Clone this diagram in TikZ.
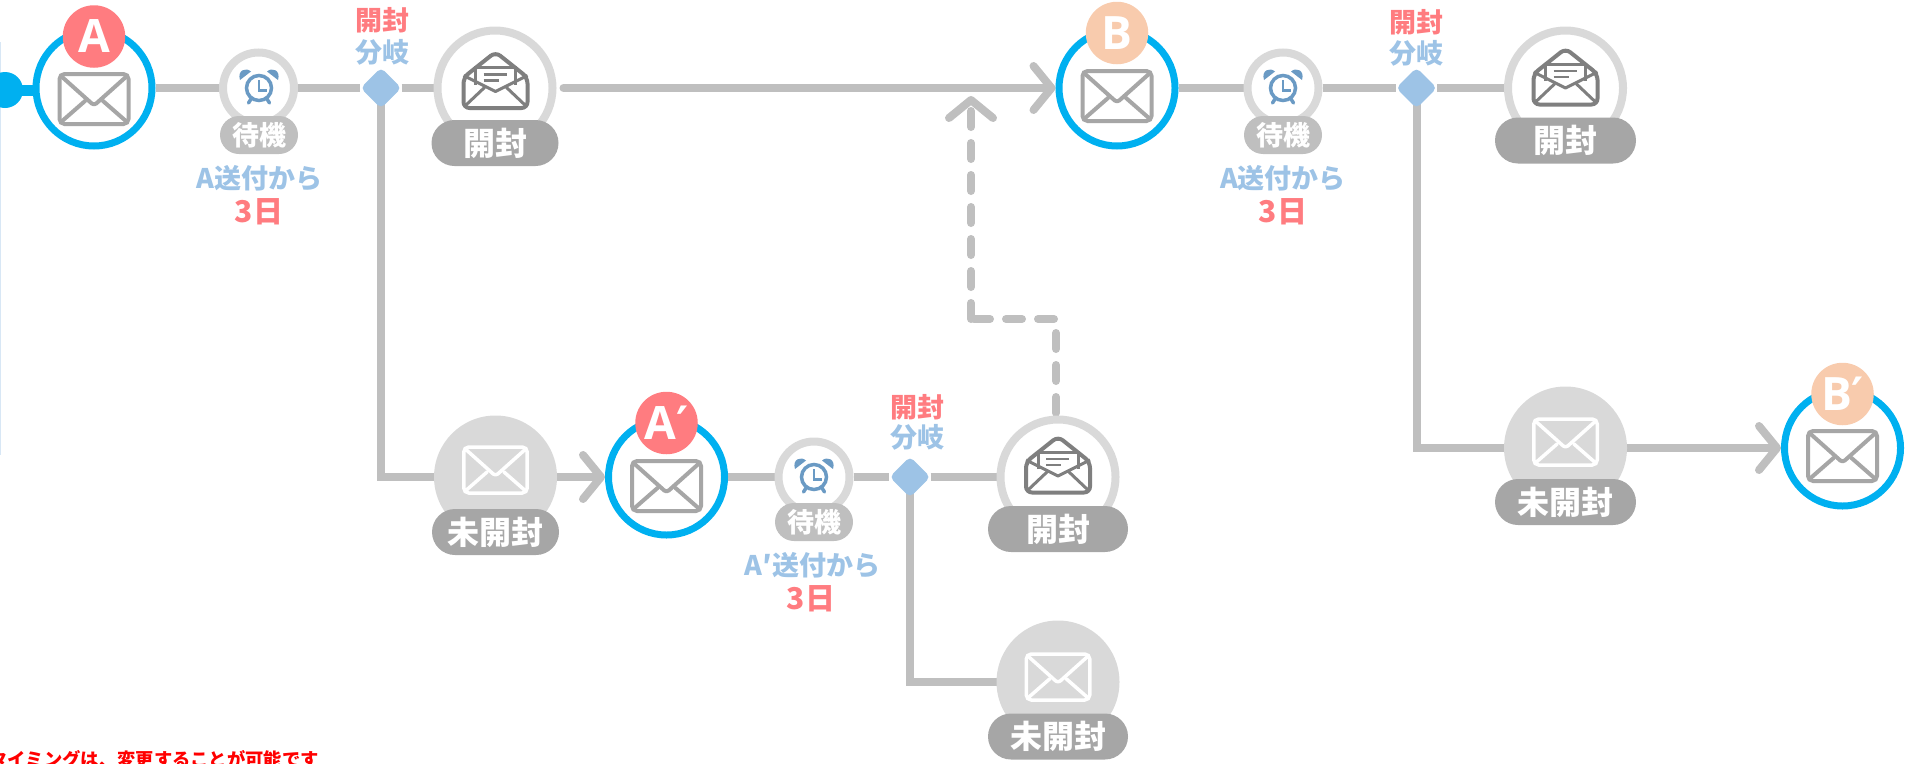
\documentclass[tikz,border=0pt]{standalone}
\usepackage{fontspec}
\setmainfont{Noto Sans CJK JP}
\newfontfamily\latinb{Open Sans}
\newfontfamily\primef{DejaVu Sans}
\usetikzlibrary{arrows.meta,shapes.geometric,shapes.misc,calc}
\pgfdeclarelayer{behind}
\pgfsetlayers{behind,main}
\definecolor{linegray}{HTML}{BFBFBF}
\definecolor{ringgray}{HTML}{D9D9D9}
\definecolor{pillgray}{HTML}{A6A6A6}
\definecolor{openicon}{HTML}{7F7F7F}
\definecolor{mailblue}{HTML}{00B0F0}
\definecolor{pinkc}{HTML}{FF7C80}
\definecolor{bluec}{HTML}{9DC3E6}
\definecolor{peachc}{HTML}{F8CBAD}
\definecolor{clockc}{HTML}{6A9AC4}
\tikzset{
  sendring/.style={circle,draw=mailblue,line width=7pt,fill=white,minimum size=116pt,inner sep=0pt},
  openring/.style={circle,draw=ringgray,line width=8pt,fill=white,minimum size=115pt,inner sep=0pt},
  shutdisk/.style={circle,fill=ringgray,minimum size=123pt,inner sep=0pt},
  clockring/.style={circle,draw=ringgray,line width=8pt,fill=white,minimum size=71pt,inner sep=0pt},
  badge/.style={circle,minimum size=62.5pt,inner sep=0pt,text=white,font=\latinb\bfseries\fontsize{46}{46}\selectfont},
  bigpill/.style={rounded rectangle,fill=pillgray,text=white,minimum height=46pt,inner sep=0pt,font=\bfseries\fontsize{32}{32}\selectfont},
  waitpill/.style={rounded rectangle,fill=linegray,text=white,minimum width=78pt,minimum height=38pt,inner sep=0pt,font=\bfseries\fontsize{27}{27}\selectfont},
  branchdot/.style={diamond,fill=bluec,minimum size=41pt,inner sep=0pt,rounded corners=5pt},
  pinklabel/.style={text=pinkc,inner sep=0pt,font=\bfseries\fontsize{27}{27}\selectfont},
  bluelabel/.style={text=bluec,inner sep=0pt,font=\bfseries\fontsize{27}{27}\selectfont},
  daysnum/.style={text=pinkc,inner sep=0pt,font=\bfseries\fontsize{30}{30}\selectfont},
  conn/.style={draw=linegray,line width=8pt},
  chevron/.style={-{Straight Barb[length=18pt,width=44pt,line width=8pt,round]}},
  dashconn/.style={conn,dash pattern=on 16pt off 16pt,line cap=round},
  pics/mailshut/.style n args={3}{code={
    \begin{scope}[scale=#3]
      \draw[draw=#1,line width=#2pt,rounded corners=5pt] (-34.5,-25) rectangle (34.5,25);
      \draw[draw=#1,line width=#2pt,line join=round,line cap=round,rounded corners=3pt]
        (-33,-23) -- (0,6.5) -- (33,-23);
      \draw[draw=#1,line width=#2pt,line cap=round] (-33,23) -- (-9,2) (33,23) -- (9,2);
    \end{scope}
  }},
  pics/mailopen/.style={code={
    \draw[draw=openicon,line width=4pt,line join=round,rounded corners=6pt]
      (-32,-3) -- (0,-28.5) -- (32,-3) -- (32,27.5) -- (-32,27.5) -- cycle;
    \draw[draw=openicon,line width=3pt,line join=round]
      (-32,-5) -- (0,11) -- (32,-5);
    \draw[draw=openicon,line width=3pt,line join=miter]
      (-20,4) -- (-20,-13) -- (20,-13) -- (20,4);
    \draw[draw=openicon,line width=2.5pt] (-12,-6) -- (11,-6) (-12,0) -- (3,0);
    \draw[draw=openicon,line width=3pt,line cap=round] (-30,25) -- (-11,7) (30,25) -- (11,7);
  }},
  pics/alarm/.style={code={
    \fill[clockc] (-19,-8) .. controls (-22,-18) and (-13,-21) .. (-8,-16.5) -- cycle;
    \fill[clockc] (19,-8) .. controls (22,-18) and (13,-21) .. (8,-16.5) -- cycle;
    \draw[draw=clockc,line width=3.5pt] (0,0) circle[radius=12.5pt];
    \draw[draw=clockc,line width=3.5pt,line cap=round] (-8,11) -- (-10.5,15) (8,11) -- (10.5,15);
    \draw[draw=clockc,line width=2.2pt,line join=miter] (0,-8) -- (0,2.5) -- (7.5,2.5);
  }}
}
\begin{document}
\begin{tikzpicture}[x=1pt,y=-1pt]
\useasboundingbox (0,0) rectangle (1921,763);
\clip (0,0) rectangle (1921,763);
% faint edge rule
\coordinate (edgetop) at (0.5,42);
\coordinate (edgebot) at (0.5,455);
\draw[draw=bluec!40,line width=1pt] (edgetop) -- (edgebot);
% nodes
\node[circle,fill=mailblue,minimum size=36pt,inner sep=0pt] (start) at (5,90) {};
\node[sendring] (sendA) at (94,88) {};
\node[clockring] (wait1) at (258.5,88) {};
\node[branchdot] (dia1) at (381,88) {};
\node[openring] (open1) at (495,88) {};
\node[sendring] (sendB) at (1117,88) {};
\node[clockring] (wait2) at (1283,88) {};
\node[branchdot] (dia2) at (1416.5,88) {};
\node[openring] (open2) at (1565.5,88) {};
\node[shutdisk] (shut1) at (495.5,477) {};
\node[sendring] (sendAp) at (666.5,477) {};
\node[clockring] (wait3) at (814,477) {};
\node[branchdot] (dia3) at (910,477) {};
\node[openring] (open3) at (1058,477) {};
\node[shutdisk] (shut3) at (1058,682) {};
\node[shutdisk] (shut2) at (1565.5,448) {};
\node[sendring] (sendBp) at (1842.5,448) {};
% connectors
\begin{pgfonlayer}{behind}
\draw[draw=mailblue,line width=11pt] (start.center) -- (start.center -| sendA.center);
\draw[conn] (sendA) -- (wait1);
\draw[conn] (wait1) -- (dia1);
\draw[conn] (dia1) -- (open1);
\coordinate (gapstart) at ($(open1.east)+(7,0)$);
\draw[conn,line cap=round,chevron] (gapstart) -- (sendB.west);
\draw[conn] (sendB) -- (wait2);
\draw[conn] (wait2) -- (dia2);
\draw[conn] (dia2) -- (open2);
\draw[conn] (dia1.center) |- (shut1.center);
\draw[conn,chevron] (shut1.east) -- (sendAp.west);
\draw[conn] (sendAp) -- (wait3);
\draw[conn] (wait3) -- (dia3);
\draw[conn] (dia3) -- (open3);
\draw[conn] (dia3.center) |- (shut3.center);
\draw[conn] (dia2.center) |- (shut2.center);
\draw[conn,chevron] (shut2.east) -- (sendBp.west);
\coordinate (dashstart) at ($(open3.north)+(-2,-2.5)$);
\coordinate (dashturnA) at (1056,319);
\coordinate (dashturnB) at (971,319);
\coordinate (dashtip) at (971,96);
\draw[dashconn] (dashstart) -- (dashturnA) -- (dashturnB);
\draw[dashconn,chevron] (dashturnB) -- (dashtip);
\end{pgfonlayer}
% icons
\pic at (94,99) {mailshut={pillgray}{4}{1}};
\pic at (1117,96) {mailshut={pillgray}{4}{1}};
\pic at (666.5,486) {mailshut={pillgray}{4}{1}};
\pic at (1842.5,456) {mailshut={pillgray}{4}{1}};
\pic at (495.5,470) {mailshut={white}{3.5}{0.92}};
\pic at (1058,677) {mailshut={white}{3.5}{0.92}};
\pic at (1565.5,442) {mailshut={white}{3.5}{0.92}};
\pic at (495.5,80.5) {mailopen};
\pic at (1565.5,77) {mailopen};
\pic at (1058,465) {mailopen};
\pic at (259,88) {alarm};
\pic at (1283,88) {alarm};
\pic at (814,477) {alarm};
% badges
\node[badge,fill=pinkc] (badgeA) at (94,36.5) {\raisebox{-2.5pt}{A}};
\node[badge,fill=peachc] (badgeB) at (1117,33) {\raisebox{-1.5pt}{B}};
\node[badge,fill=pinkc] (badgeAp) at (666.5,423) {\raisebox{-2pt}{A{\primef\bfseries ′}}};
\node[badge,fill=peachc] (badgeBp) at (1842.5,394) {\raisebox{-1pt}{B{\primef\bfseries ′}}};
% pills
\node[bigpill,minimum width=127pt] (pillO1) at (495,143) {開封};
\node[bigpill,minimum width=141pt] (pillO2) at (1565.5,140.5) {開封};
\node[bigpill,minimum width=127pt] (pillS1) at (495.5,532) {未開封};
\node[bigpill,minimum width=140pt] (pillO3) at (1058,529) {開封};
\node[bigpill,minimum width=140pt] (pillS3) at (1058,736.5) {未開封};
\node[bigpill,minimum width=141pt] (pillS2) at (1565.5,502) {未開封};
\node[waitpill] (pillW1) at (259,135) {待機};
\node[waitpill] (pillW2) at (1283,135) {待機};
\node[waitpill] (pillW3) at (814,522) {待機};
% labels
\node[pinklabel] (openT1) at (382.5,20) {開封};
\node[bluelabel] (splitT1) at (382.5,52) {分岐};
\node[pinklabel] (openT2) at (1416.5,22) {開封};
\node[bluelabel] (splitT2) at (1416.5,53) {分岐};
\node[pinklabel] (openT3) at (917,407) {開封};
\node[bluelabel] (splitT3) at (917,437) {分岐};
\node[bluelabel] (daysA1) at (259.5,178) {A送付から};
\node[daysnum] (n1) at (259,212) {3日};
\node[bluelabel] (daysA2) at (1283,178) {A送付から};
\node[daysnum] (n2) at (1283,212) {3日};
\node[bluelabel] (daysA3) at (812.5,565) {A′送付から};
\node[daysnum] (n3) at (811,599) {3日};
\node[anchor=east,text=red,inner sep=0pt,font=\bfseries\fontsize{18.3}{18.3}\selectfont] (note) at (319,759) {タイミングは、変更することが可能です};
\end{tikzpicture}
\end{document}
